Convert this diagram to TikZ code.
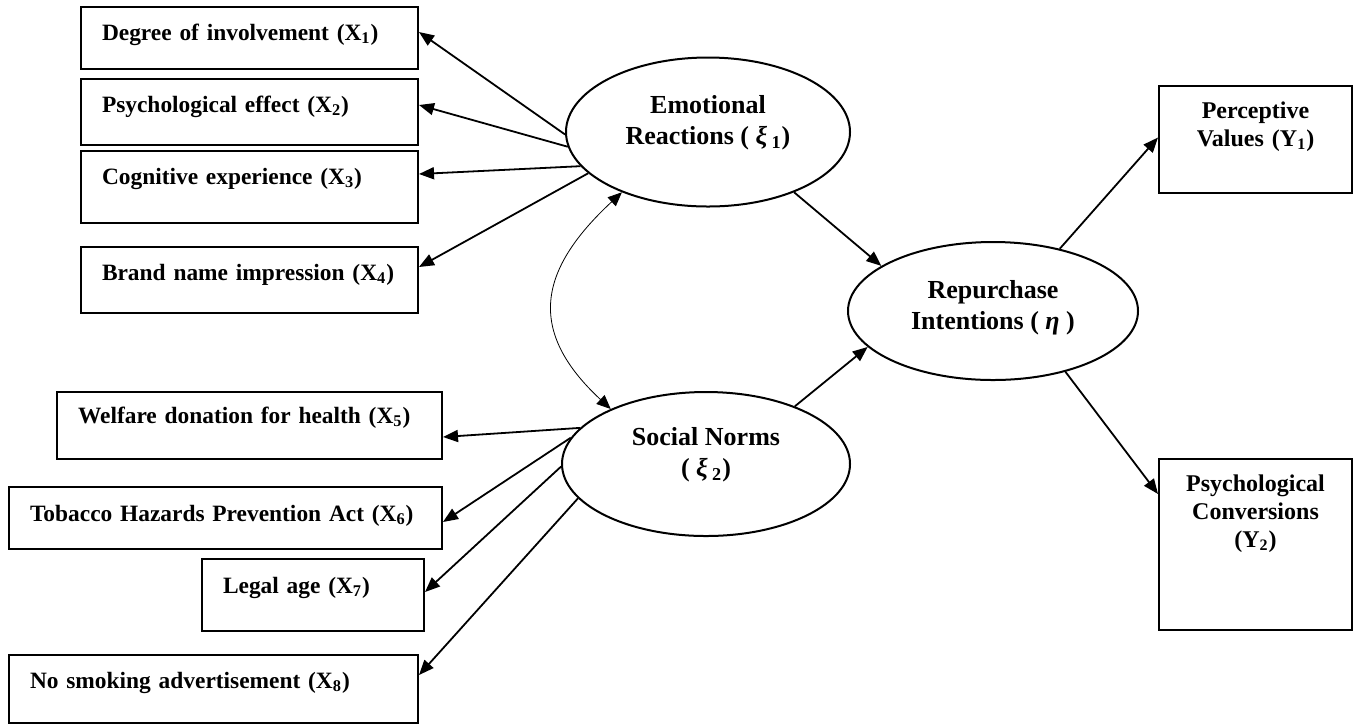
\documentclass[tikz,border=0pt]{standalone}
\usepackage{fontspec}
\setmainfont{Liberation Serif}
\usepackage{tikz}
\usetikzlibrary{arrows.meta,shapes.geometric}
\newcommand{\boxfont}{\fontsize{11.7}{14}\selectfont\bfseries}
\newcommand{\yfont}{\fontsize{12}{14}\selectfont\bfseries}
\newcommand{\latfont}{\fontsize{13}{15.5}\selectfont\bfseries}
\begin{document}
\begin{tikzpicture}[
  x=0.5pt, y=-0.5pt,
  box/.style={draw, rectangle, line width=1pt, align=left, font=\boxfont, inner xsep=10.5pt, inner ysep=0pt, text height=16.5pt},
  ybox/.style={draw, rectangle, line width=1pt, align=center, font=\yfont, inner sep=0pt, text width=96.5pt, text height=16pt},
  latent/.style={draw, ellipse, line width=1pt, align=center, font=\latfont, inner sep=0pt, text height=20pt, text depth=7.4pt},
  arr/.style={-{Triangle[length=7.5pt,width=6pt]}, line width=0.9pt},
  corr/.style={{Triangle[length=7pt,width=6pt]}-{Triangle[length=7pt,width=6pt]}, line width=0.4pt},
]
\useasboundingbox (0,0) rectangle (1353,725);
% indicators of the exogenous constructs
\node[box, text width=147.5pt, text depth=14.5pt] (X1) at (249.5,38) {Degree of involvement (X\textsubscript{1})};
\node[box, text width=147.5pt, text depth=16.5pt] (X2) at (249.5,112) {Psychological effect (X\textsubscript{2})};
\node[box, text width=147.5pt, text depth=19.5pt] (X3) at (249.5,187) {Cognitive experience (X\textsubscript{3})};
\node[box, text width=147.5pt, text depth=16.5pt] (X4) at (249.5,280) {Brand name impression (X\textsubscript{4})};
\node[box, text width=171.5pt, text height=15.5pt, text depth=18pt] (X5) at (249.5,425.5) {Welfare donation for health (X\textsubscript{5})};
\node[box, text width=195.5pt, text height=17pt, text depth=14pt] (X6) at (225.5,518) {Tobacco Hazards Prevention Act (X\textsubscript{6})};
\node[box, text width=90pt, text height=17pt, text depth=19pt] (X7) at (313,595) {Legal age (X\textsubscript{7})};
\node[box, text width=183.5pt, text depth=17.5pt] (X8) at (213.5,689) {No smoking advertisement (X\textsubscript{8})};
% latent constructs
\node[latent, minimum width=142pt, minimum height=74.5pt] (E) at (708,132) {Emotional\\Reactions ( \textit{ξ}\,\textsubscript{1})};
\node[latent, minimum width=144pt, minimum height=72pt] (S) at (706,464) {Social Norms\\( \textit{ξ}\,\textsubscript{2})};
\node[latent, minimum width=145pt, minimum height=69pt, text height=24pt, text depth=5.4pt] (R) at (993,311) {Repurchase\\Intentions ( \textit{η} )};
% indicators of the endogenous construct
\node[ybox, text depth=37.5pt] (Y1) at (1255.5,139.5) {Perceptive\\Values (Y\textsubscript{1})};
\node[ybox, text depth=69.5pt] (Y2) at (1255.5,544.5) {Psychological\\Conversions\\(Y\textsubscript{2})};
% paths
\draw[arr] (E.181) -- ([yshift=3pt]X1.east);
\draw[arr] (E.186) -- ([yshift=3.5pt]X2.east);
\draw[arr] (E.195) -- ([yshift=6.5pt]X3.east);
\draw[arr] (E.199) -- ([yshift=6.5pt]X4.east);
\draw[arr] (S.164) -- ([yshift=-5.75pt]X5.east);
\draw[arr] (S.169) -- ([yshift=-2pt]X6.east);
\draw[arr] (S.181) -- ([yshift=1.5pt]X7.east);
\draw[arr] (S.195) -- ([yshift=7pt]X8.east);
\draw[arr] (E.325) -- (R.158);
\draw[arr] (S.33) -- (R.196);
\draw[arr] (R.43) -- ([yshift=1pt]Y1.west);
\draw[arr] (R.320) -- ([yshift=-18pt]Y2.north west);
\draw[corr] (S.150) .. controls +(-84,-78) and +(-84,78) .. (E.215);
\end{tikzpicture}
\end{document}
